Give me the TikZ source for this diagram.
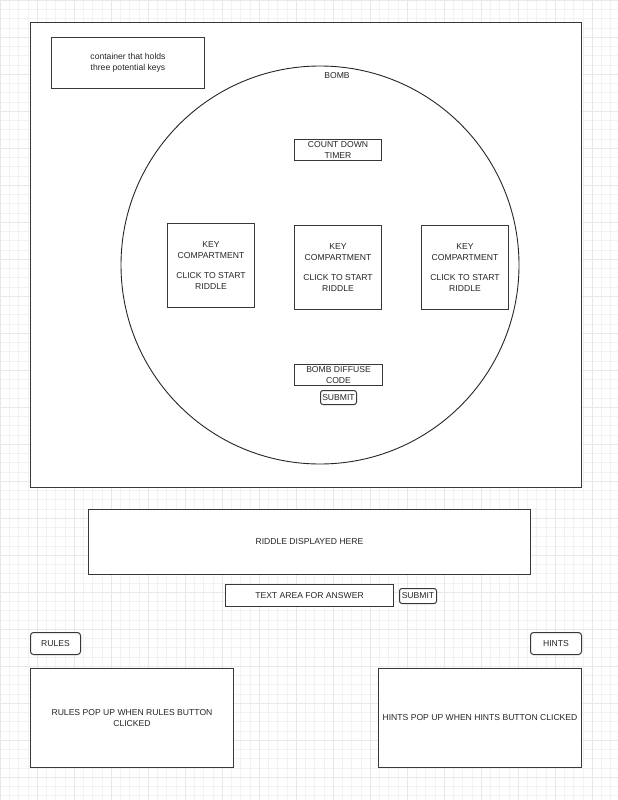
\documentclass[tikz,border=0pt]{standalone}
\usepackage{fontspec}
\setmainfont{Liberation Sans}
\begin{document}
\begin{tikzpicture}[x=1pt,y=-1pt,
  every node/.style={font=\fontsize{8.6}{10.8}\selectfont, text=black!85},
  panel/.style={draw=black!78, line width=1pt, fill=white, inner sep=0pt, align=center},
  btn/.style={draw=black!78, line width=1pt, fill=white, rounded corners=2.5pt, inner sep=0pt, align=center},
  gridminor/.style={draw=black!5, line width=0.4pt},
  gridmajor/.style={draw=black!9, line width=0.5pt}]
\useasboundingbox (0,0) rectangle (618,800);
\fill[white] (0,0) rectangle (618,800);
% background grid
\foreach \gx in {0,9.25,...,618} \draw[gridminor] (\gx,0) -- (\gx,800);
\foreach \gy in {0,9.25,...,800} \draw[gridminor] (0,\gy) -- (618,\gy);
\foreach \gx in {0,37,...,618} \draw[gridmajor] (\gx,0) -- (\gx,800);
\foreach \gy in {0,37,...,800} \draw[gridmajor] (0,\gy) -- (618,\gy);

% main frame holding the bomb
\node[panel, line width=1.1pt, minimum width=551, minimum height=465, anchor=north west] (frame) at (30,22) {};
\node[panel, minimum width=153, minimum height=51, anchor=north west] (keys) at (51,37) {container that holds\\three potential keys};

% bomb
\node[draw=black!85, line width=0.9pt, circle, minimum size=398, inner sep=0pt] (bomb) at (320,265) {};
\node (bomblabel) at (337,76) {BOMB};
\node[panel, minimum width=87, minimum height=21, anchor=north west] (timer) at (294,139) {COUNT DOWN\\TIMER};

\node[panel, minimum width=87, minimum height=84, anchor=north west] (keyA) at (167,223) {KEY\\COMPARTMENT\\[9.5pt]CLICK TO START\\RIDDLE};
\node[panel, minimum width=87, minimum height=84, anchor=north west] (keyB) at (294,225) {KEY\\COMPARTMENT\\[9.5pt]CLICK TO START\\RIDDLE};
\node[panel, minimum width=87, minimum height=84, anchor=north west] (keyC) at (421,225) {KEY\\COMPARTMENT\\[9.5pt]CLICK TO START\\RIDDLE};

\node[panel, minimum width=88, minimum height=21, anchor=north west] (code) at (294,364) {BOMB DIFFUSE\\CODE};
\node[btn, minimum width=36, minimum height=14, anchor=north west] (codesubmit) at (320,390) {SUBMIT};

% riddle and answer
\node[panel, minimum width=442, minimum height=65, anchor=north west] (riddle) at (88,509) {RIDDLE DISPLAYED HERE};
\node[panel, minimum width=168, minimum height=22, anchor=north west] (answer) at (225,584) {TEXT AREA FOR ANSWER};
\node[btn, minimum width=37, minimum height=15, anchor=north west] (answersubmit) at (399,588) {SUBMIT};

% rules and hints
\node[btn, rounded corners=3pt, minimum width=50, minimum height=22, anchor=north west] (rules) at (30,632) {RULES};
\node[panel, minimum width=203, minimum height=99, anchor=north west] (rulesbox) at (30,668) {RULES POP UP WHEN RULES BUTTON\\CLICKED};
\node[btn, rounded corners=3pt, minimum width=51, minimum height=22, anchor=north west] (hints) at (530,632) {HINTS};
\node[panel, minimum width=203, minimum height=99, anchor=north west] (hintsbox) at (378,668) {HINTS POP UP WHEN HINTS BUTTON CLICKED};
\end{tikzpicture}
\end{document}
